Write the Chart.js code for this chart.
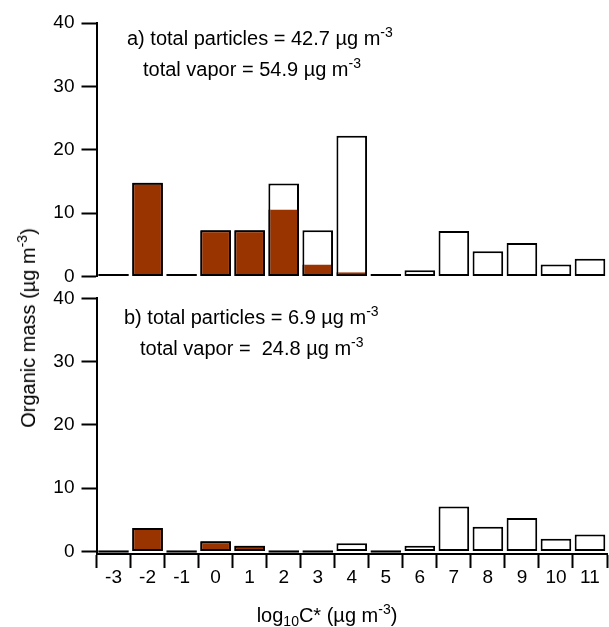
<!DOCTYPE html>
<html>
<head>
<meta charset="utf-8">
<script src="https://cdn.jsdelivr.net/npm/chart.js@4.4.0/dist/chart.umd.min.js"></script>
<style>
  body { margin: 0; background: #fff; }
  #wrap { position: relative; width: 609px; height: 627px; overflow: hidden;
          font-family: "Liberation Sans", Arial, sans-serif; color: #000; }
  canvas { position: absolute; left: 0; }
  .txt { position: absolute; font-size: 20px; line-height: 20px; white-space: nowrap; }
  .sup { position: relative; top: -8px; font-size: 14px; }
  .sub { position: relative; top: 4px; font-size: 14px; }
</style>
</head>
<body>
<div id="wrap">
  <canvas id="chartA" width="609" height="295" style="top:0"></canvas>
  <canvas id="chartB" width="609" height="347" style="top:280px"></canvas>

  <div class="txt" style="left:127px; top:28px">a) total particles = 42.7 µg m<span class="sup">-3</span></div>
  <div class="txt" style="left:143px; top:59px">total vapor = 54.9 µg m<span class="sup">-3</span></div>
  <div class="txt" style="left:124px; top:307px">b) total particles = 6.9 µg m<span class="sup">-3</span></div>
  <div class="txt" style="left:140px; top:338px">total vapor =&nbsp; 24.8 µg m<span class="sup">-3</span></div>

  <div class="txt" style="left:29px; top:328px; transform: translate(-50%, -50%) rotate(-90deg)">Organic mass (µg m<span class="sup">-3</span>)</div>
  <div class="txt" style="left:327px; top:605px; transform: translateX(-50%)">log<span class="sub">10</span>C* (µg m<span class="sup">-3</span>)</div>
</div>

<script>
// bins of log10 C*
const bins = ['-3', '-2', '-1', '0', '1', '2', '3', '4', '5', '6', '7', '8', '9', '10', '11'];
const yTicks = [0, 10, 20, 30, 40];

// a) particle / vapor mass per bin
const particlesA = [0, 14.8, 0, 7.3, 7.3, 10.6, 1.9, 0.7, 0, 0, 0, 0, 0, 0, 0];
const vaporA     = [0, 0, 0, 0, 0, 4.1, 5.4, 21.5, 0, 1.0, 7.2, 4.0, 5.3, 1.9, 2.8];

// b)
const particlesB = [0, 3.7, 0, 1.6, 0.9, 0, 0, 0, 0, 0, 0, 0, 0, 0, 0];
const vaporB     = [0, 0, 0, 0, 0, 0, 0, 1.3, 0, 0.9, 7.1, 3.9, 5.3, 2.0, 2.7];

const font = { family: '"Liberation Sans", Arial, sans-serif', size: 19 };

function makeChart(id, particles, vapor, yMin, showX, pad) {
  const total = particles.map((p, i) => p + vapor[i]);
  return new Chart(document.getElementById(id), {
    type: 'bar',
    data: {
      labels: bins,
      datasets: [
        {
          label: 'particles',
          data: particles,
          backgroundColor: '#993300',
          borderColor: '#000',
          // no black line between particle and vapor parts
          borderWidth: c => ({ left: 2, right: 2, bottom: 2, top: vapor[c.dataIndex] > 0 ? 0 : 2 }),
          borderSkipped: false,
          order: 0
        },
        {
          label: 'total',
          data: total,
          backgroundColor: '#fff',
          borderColor: '#000',
          borderWidth: 2,
          borderSkipped: false,
          minBarLength: 2.5,
          order: 1
        }
      ]
    },
    options: {
      responsive: false,
      animation: false,
      events: [],
      layout: { padding: pad },
      plugins: { legend: { display: false }, tooltip: { enabled: false } },
      datasets: { bar: { grouped: false, barPercentage: 0.9, categoryPercentage: 1 } },
      scales: {
        x: {
          display: showX,
          grid: { offset: true, drawOnChartArea: false, tickLength: 14, tickWidth: 2, tickColor: '#000' },
          border: { display: true, color: '#000', width: 2 },
          ticks: { color: '#000', font: font, padding: -2, maxRotation: 0, autoSkip: false },
          afterFit: s => { s.height = showX ? 73 : 0; }
        },
        y: {
          min: yMin,
          max: 40,
          afterBuildTicks: ax => { ax.ticks = yTicks.map(v => ({ value: v })); },
          grid: { drawOnChartArea: false, tickLength: 15, tickWidth: 2, tickColor: '#000' },
          border: { display: true, color: '#000', width: 2 },
          ticks: { color: '#000', font: font, padding: 7 },
          afterFit: s => { s.width = 96.5; }
        }
      }
    }
  });
}

makeChart('chartA', particlesA, vaporA, 0, false, { top: 23, right: 2, bottom: 9, left: 0 });
makeChart('chartB', particlesB, vaporB, -0.4, true, { top: 17.5, right: 2, bottom: 0, left: 0 });
</script>
</body>
</html>
